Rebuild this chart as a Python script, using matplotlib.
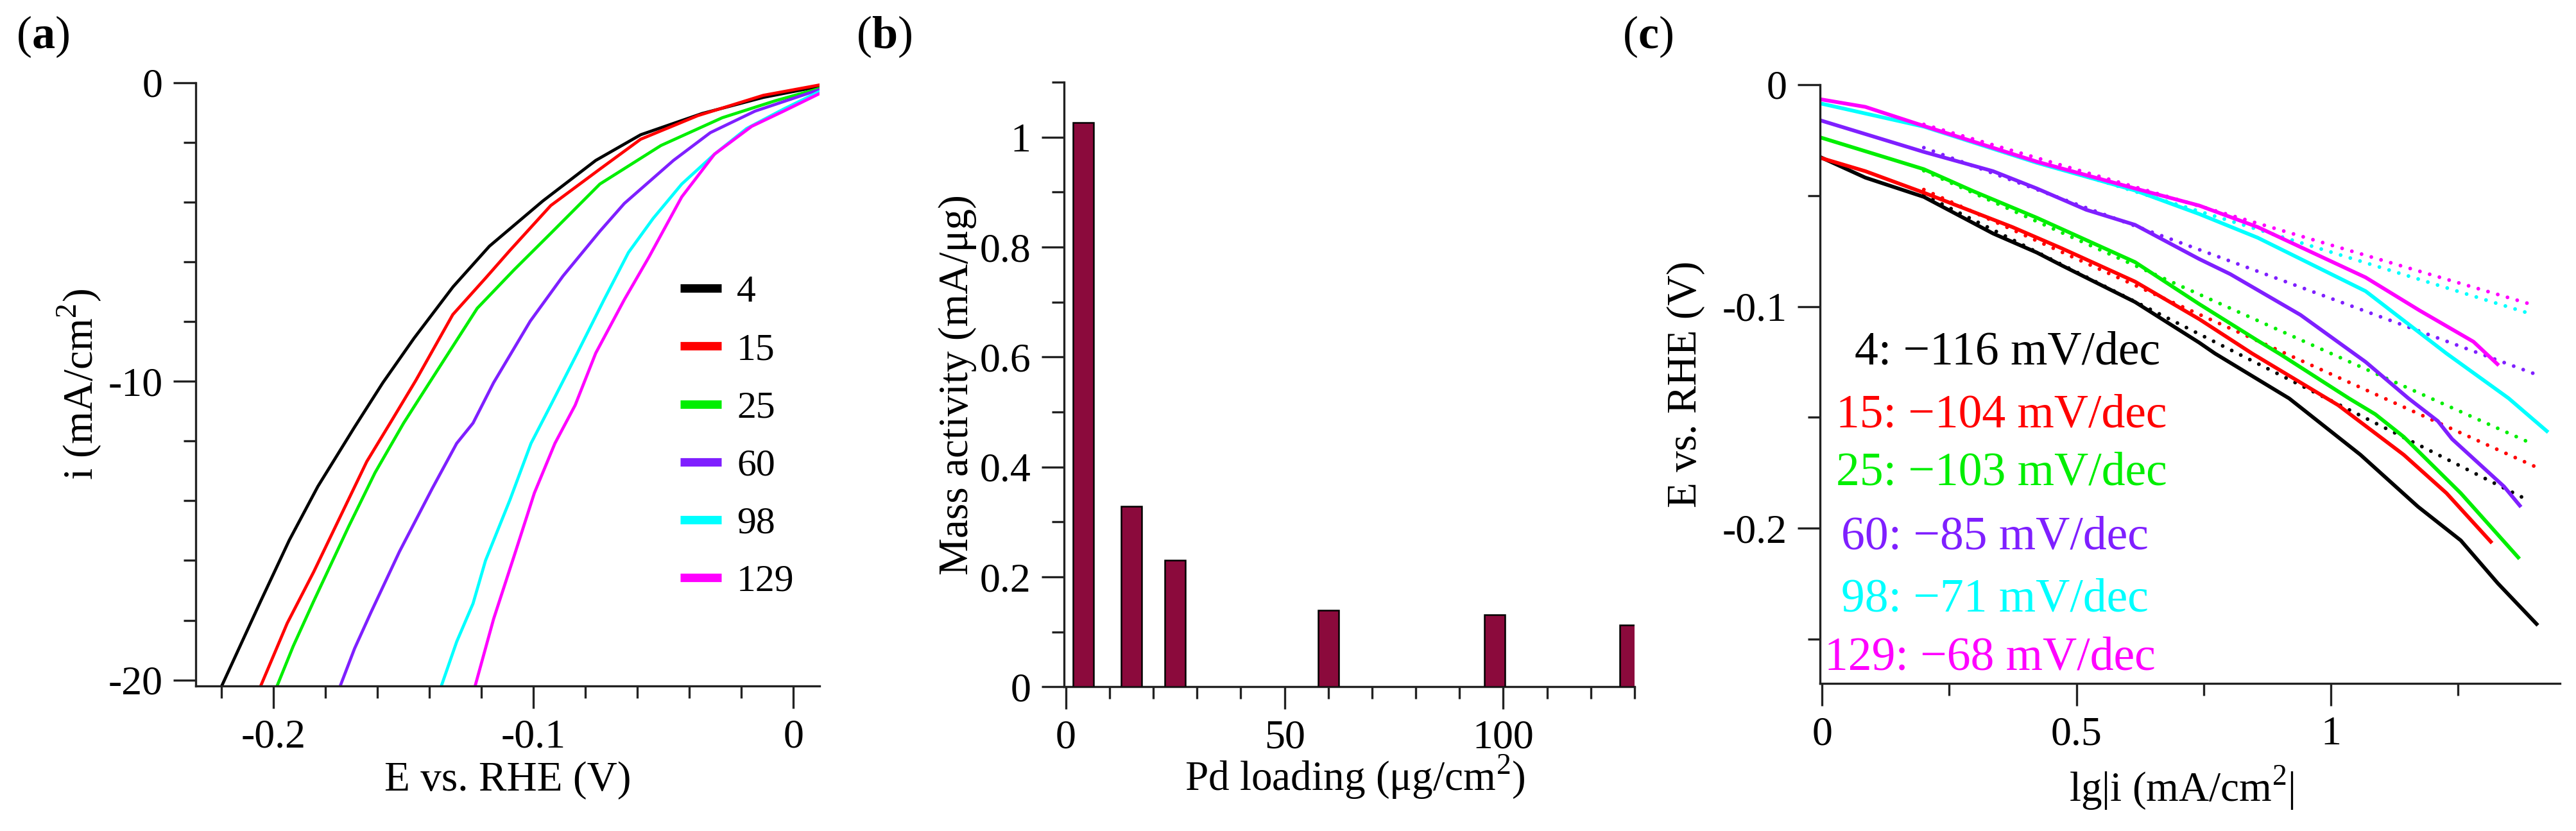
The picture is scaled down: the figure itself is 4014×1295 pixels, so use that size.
import matplotlib
matplotlib.use("Agg")
import matplotlib.pyplot as plt
from matplotlib.ticker import MultipleLocator, FuncFormatter

plt.rcParams["font.family"] = ["Liberation Serif", "DejaVu Serif"]
plt.rcParams["mathtext.fontset"] = "custom"
plt.rcParams["mathtext.rm"] = "Liberation Serif"
plt.rcParams["mathtext.bf"] = "Liberation Serif:bold"
plt.rcParams["axes.unicode_minus"] = False

# Pd loadings (ug/cm2) and colours used for every panel
LOADINGS = [4, 15, 25, 60, 98, 129]
COLORS = ["#000000", "#ff0000", "#00ee00", "#7f1fff", "#00ffff", "#ff00ff"]

# --- (a) polarisation curves: E (V vs RHE), i (mA/cm2) ---
A_E_4 = [-0.220, -0.205, -0.194, -0.183, -0.169, -0.158, -0.146, -0.131, -0.117, -0.0965, -0.0761, -0.0588, -0.0352, -0.0116, 0.0096]
A_I_4 = [-20.2, -17.36, -15.32, -13.52, -11.55, -10.05, -8.56, -6.84, -5.48, -3.97, -2.61, -1.75, -1.04, -0.50, -0.14]
A_E_15 = [-0.205, -0.1948, -0.1846, -0.1767, -0.1642, -0.1547, -0.1453, -0.1311, -0.1185, -0.1091, -0.0934, -0.0745, -0.0588, -0.0368, -0.0116, 0.0096]
A_I_15 = [-20.2, -18.1, -16.38, -14.95, -12.69, -11.33, -9.97, -7.77, -6.55, -5.62, -4.12, -2.90, -1.90, -1.11, -0.43, -0.09]
A_E_25 = [-0.1987, -0.1925, -0.1846, -0.1712, -0.161, -0.150, -0.1406, -0.1217, -0.1075, -0.0934, -0.0745, -0.051, -0.0274, -0.0069, 0.0096]
A_I_25 = [-20.2, -18.87, -17.36, -14.87, -13.06, -11.40, -10.12, -7.56, -6.27, -5.05, -3.40, -2.11, -1.18, -0.61, -0.21]
A_E_60 = [-0.1744, -0.1689, -0.1626, -0.1516, -0.139, -0.1296, -0.1233, -0.1154, -0.1013, -0.0887, -0.0745, -0.0651, -0.0462, -0.032, -0.0148, 0.0096]
A_I_60 = [-20.2, -18.95, -17.74, -15.70, -13.59, -12.08, -11.40, -10.05, -7.99, -6.48, -4.98, -4.05, -2.61, -1.68, -0.96, -0.25]
A_E_98 = [-0.1355, -0.1296, -0.1233, -0.1185, -0.1091, -0.101, -0.0934, -0.0832, -0.0729, -0.0635, -0.054, -0.043, -0.0304, -0.018, -0.0038, 0.0096]
A_I_98 = [-20.2, -18.72, -17.44, -16.00, -13.97, -12.08, -10.80, -9.06, -7.27, -5.69, -4.55, -3.40, -2.40, -1.54, -0.89, -0.32]
A_E_129 = [-0.1225, -0.1154, -0.1075, -0.0997, -0.0918, -0.084, -0.0761, -0.0651, -0.0556, -0.043, -0.0304, -0.0161, -0.0038, 0.0096]
A_I_129 = [-20.2, -17.96, -15.85, -13.74, -12.08, -10.80, -9.06, -7.27, -5.84, -3.83, -2.40, -1.47, -0.96, -0.39]

# --- (b) mass activity (mA/ug) ---
MASS_ACT = [1.027, 0.3285, 0.230, 0.139, 0.131, 0.112]

# --- (c) Tafel plots: lg|i|, E (V) ---
C_X_4 = [0.0, 0.085, 0.20, 0.336, 0.422, 0.471, 0.615, 0.741, 0.772, 0.918, 1.058, 1.171, 1.255, 1.328, 1.404]
C_Y_4 = [-0.033, -0.0419, -0.0506, -0.0671, -0.0757, -0.0815, -0.098, -0.1163, -0.1212, -0.1415, -0.1669, -0.1903, -0.2055, -0.2249, -0.2432]
C_X_15 = [0.0, 0.085, 0.20, 0.374, 0.471, 0.615, 0.741, 0.845, 1.014, 1.143, 1.227, 1.314]
C_Y_15 = [-0.0332, -0.039, -0.0487, -0.0642, -0.0738, -0.0888, -0.1057, -0.1212, -0.1445, -0.1669, -0.1842, -0.2061]
C_X_25 = [0.0, 0.20, 0.297, 0.422, 0.615, 0.741, 0.856, 0.90, 1.035, 1.087, 1.143, 1.255, 1.368]
C_Y_25 = [-0.024, -0.0381, -0.048, -0.060, -0.080, -0.0989, -0.1154, -0.1215, -0.1414, -0.1486, -0.1588, -0.1842, -0.2132]
C_X_60 = [0.0, 0.2, 0.336, 0.422, 0.519, 0.615, 0.741, 0.802, 0.940, 1.068, 1.152, 1.210, 1.238, 1.340, 1.371]
C_Y_60 = [-0.0163, -0.0303, -0.039, -0.0468, -0.0564, -0.0632, -0.0786, -0.0854, -0.1038, -0.125, -0.1414, -0.1517, -0.1598, -0.1812, -0.1898]
C_X_98 = [0.0, 0.2, 0.422, 0.615, 0.741, 0.856, 1.068, 1.227, 1.349, 1.424]
C_Y_98 = [-0.0086, -0.0189, -0.0352, -0.0477, -0.0583, -0.069, -0.0931, -0.1212, -0.1414, -0.1562]
C_X_129 = [0.0, 0.085, 0.2, 0.422, 0.615, 0.741, 0.856, 1.068, 1.174, 1.280, 1.327]
C_Y_129 = [-0.0067, -0.010, -0.0186, -0.0347, -0.0468, -0.0545, -0.0642, -0.0869, -0.1018, -0.1159, -0.126]

# Tafel fit lines (start / end points) and slopes (mV/dec)
FIT_X0 = [0.2, 0.2, 0.2, 0.2, 0.2, 0.2]
FIT_Y0 = [-0.0497, -0.0473, -0.0388, -0.0284, -0.0187, -0.0179]
FIT_X1 = [1.390, 1.399, 1.399, 1.399, 1.392, 1.394]
FIT_Y1 = [-0.1877, -0.172, -0.1623, -0.1303, -0.1033, -0.0991]
TAFEL_SLOPES = [-116, -104, -103, -85, -71, -68]

A_E = [A_E_4, A_E_15, A_E_25, A_E_60, A_E_98, A_E_129]
A_I = [A_I_4, A_I_15, A_I_25, A_I_60, A_I_98, A_I_129]
C_X = [C_X_4, C_X_15, C_X_25, C_X_60, C_X_98, C_X_129]
C_Y = [C_Y_4, C_Y_15, C_Y_25, C_Y_60, C_Y_98, C_Y_129]

# annotation anchors in panel (c), data coords
NOTE_POS = [(0.064, -0.1209), (0.028, -0.1493), (0.028, -0.1754),
            (0.038, -0.2041), (0.038, -0.2322), (0.005, -0.2586)]

TICK_FS = 46
LABEL_FS = 47
LW_AX = 2.4

fmt = FuncFormatter(lambda v, p: "0" if abs(v) < 1e-9 else f"{v:g}")


def style_axes(ax):
    for s in ("top", "right"):
        ax.spines[s].set_visible(False)
    for s in ("left", "bottom"):
        ax.spines[s].set_linewidth(LW_AX)
        ax.spines[s].set_color("#222222")
    ax.tick_params(which="major", direction="out", length=25, width=LW_AX,
                   labelsize=TICK_FS, pad=12, color="#222222")
    ax.tick_params(which="minor", direction="out", length=14, width=LW_AX,
                   color="#222222")
    ax.xaxis.set_major_formatter(fmt)
    ax.yaxis.set_major_formatter(fmt)


fig = plt.figure(figsize=(40.14, 12.95), dpi=100)

# ---------------- (a) ----------------
ax_a = fig.add_axes([0.07598, 0.17452, 0.24215, 0.72625])
for e, i, c, lab in zip(A_E, A_I, COLORS, LOADINGS):
    ax_a.plot(e, i, color=c, lw=3.4, label=str(lab))
ax_a.set_xlim(-0.23, 0.01)
ax_a.set_ylim(-20.2, 0)
ax_a.xaxis.set_major_locator(MultipleLocator(0.1))
ax_a.xaxis.set_minor_locator(MultipleLocator(0.02))
ax_a.yaxis.set_major_locator(MultipleLocator(10))
ax_a.yaxis.set_minor_locator(MultipleLocator(2))
style_axes(ax_a)
ax_a.set_xlabel("E vs. RHE (V)", fontsize=LABEL_FS)
ax_a.set_ylabel("i (mA/cm$^2$)", fontsize=LABEL_FS)
ax_a.xaxis.set_label_coords(0.5, -0.125)
ax_a.yaxis.set_label_coords(-0.147, 0.5)
leg = ax_a.legend(loc="upper left", bbox_to_anchor=(0.777, 0.681), frameon=False,
                  fontsize=43, handlelength=1.07, handletextpad=0.4,
                  labelspacing=0.59, borderpad=0, borderaxespad=0)
for h in leg.get_lines():
    h.set_linewidth(9.5)
    h.set_solid_capstyle("butt")

# ---------------- (b) ----------------
ax_b = fig.add_axes([0.41305, 0.17344, 0.22148, 0.72772])
ax_b.bar(LOADINGS, MASS_ACT, width=4.7, color="#8b0a3c", edgecolor="black",
         linewidth=1.8, zorder=3)
ax_b.set_xlim(-0.4, 130)
ax_b.set_ylim(0, 1.1)
ax_b.xaxis.set_major_locator(MultipleLocator(50))
ax_b.xaxis.set_minor_locator(MultipleLocator(10))
ax_b.yaxis.set_major_locator(MultipleLocator(0.2))
ax_b.yaxis.set_minor_locator(MultipleLocator(0.1))
style_axes(ax_b)
ax_b.set_xlabel("Pd loading (μg/cm$^2$)", fontsize=LABEL_FS)
ax_b.set_ylabel("Mass activity (mA/μg)", fontsize=LABEL_FS)
ax_b.xaxis.set_label_coords(0.51, -0.11)
ax_b.yaxis.set_label_coords(-0.153, 0.5)

# ---------------- (c) ----------------
ax_c = fig.add_axes([0.70653, 0.17761, 0.28725, 0.72046])
for k in range(len(LOADINGS)):
    ax_c.plot([FIT_X0[k], FIT_X1[k]], [FIT_Y0[k], FIT_Y1[k]], color=COLORS[k],
              lw=4.2, linestyle=(0, (0.01, 2.7)), dash_capstyle="round")
for x, y, c in zip(C_X, C_Y, COLORS):
    ax_c.plot(x, y, color=c, lw=4.2)
for k, (px, py) in enumerate(NOTE_POS):
    ax_c.text(px, py, f"{LOADINGS[k]}: \u2212{abs(TAFEL_SLOPES[k])} mV/dec",
              color=COLORS[k], fontsize=53, ha="left", va="center")
ax_c.set_xlim(-0.004, 1.45)
ax_c.set_ylim(-0.27, 0)
ax_c.xaxis.set_major_locator(MultipleLocator(0.5))
ax_c.xaxis.set_minor_locator(MultipleLocator(0.25))
ax_c.yaxis.set_major_locator(MultipleLocator(0.1))
ax_c.yaxis.set_minor_locator(MultipleLocator(0.05))
style_axes(ax_c)
ax_c.set_xlabel("lg|i (mA/cm$^2$|", fontsize=LABEL_FS)
ax_c.set_ylabel("E vs. RHE (V)", fontsize=LABEL_FS)
ax_c.xaxis.set_label_coords(0.489, -0.135)
ax_c.yaxis.set_label_coords(-0.155, 0.5)

# panel letters
for x, letter in [(25, "a"), (1334, "b"), (2528, "c")]:
    fig.text(x / 4014, 1 - 22 / 1295, f"($\\mathbf{{{letter}}}$)", fontsize=52,
             ha="left", va="top")

fig.savefig("out.png", dpi=100)
